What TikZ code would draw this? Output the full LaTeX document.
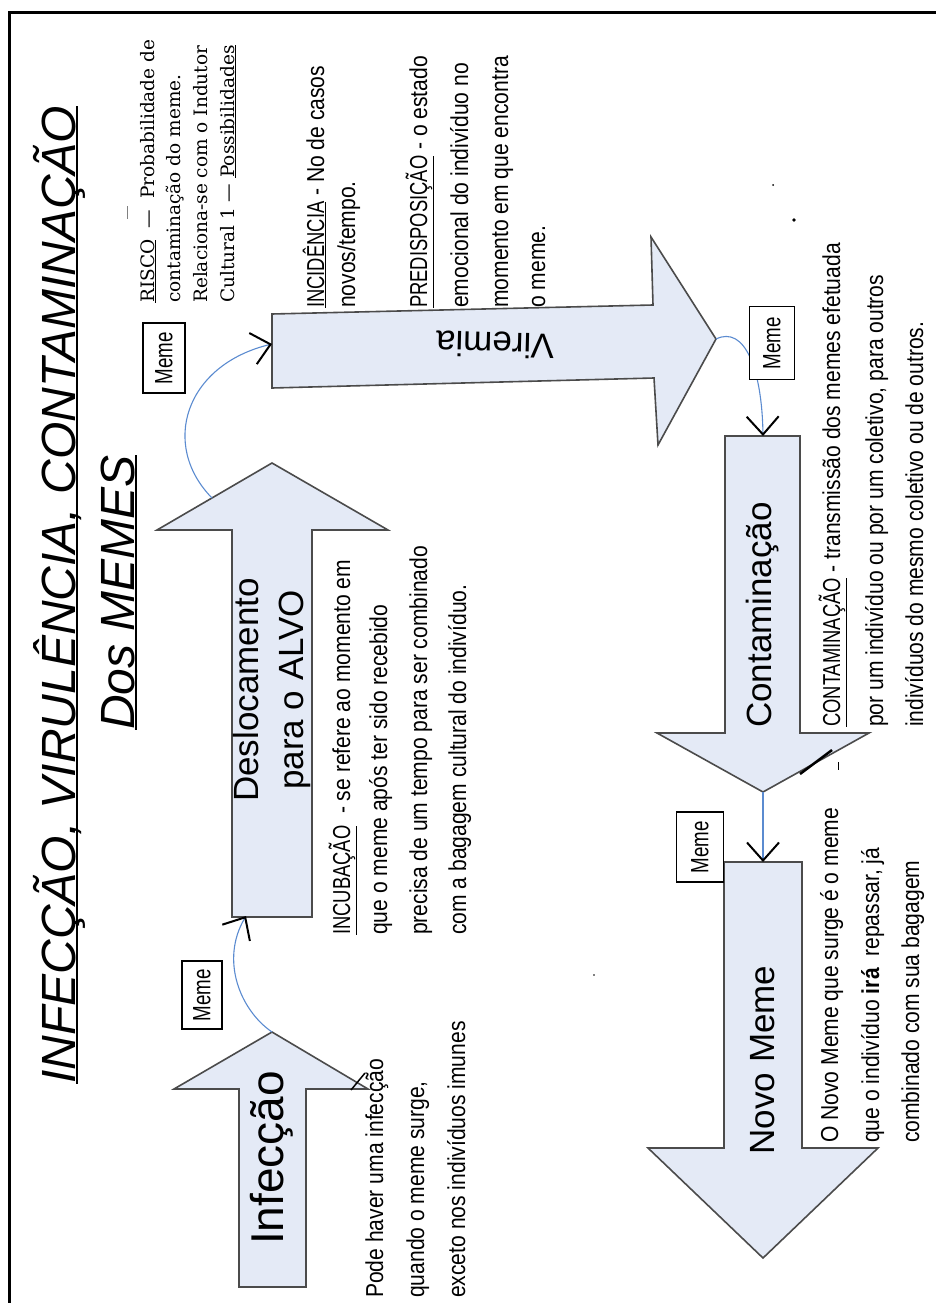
\documentclass[tikz,border=0pt]{standalone}
\usepackage{fontspec}
\setmainfont{Liberation Sans}
\newfontfamily\bodyf[FakeStretch=0.86]{Liberation Sans}
\newfontfamily\capsf[FakeStretch=0.75]{Liberation Sans}
\newfontfamily\serf{DejaVu Serif}
\usetikzlibrary{arrows.meta}
\definecolor{arrfill}{RGB}{228,234,246}
\definecolor{arredge}{RGB}{75,75,75}
\definecolor{connblue}{RGB}{91,139,208}
\newcommand\myul[3]{\setbox0\hbox{#3}\rlap{\rule[-#1]{\wd0}{#2}}\box0\relax}
\newcommand\bul[1]{\setbox0\hbox{#1}\dimen0=\dp0\relax\advance\dimen0 by 1.5pt\relax\rlap{\rule[-\dimen0]{\wd0}{0.8pt}}\box0\relax}
\tikzset{
 arrowshape/.style={fill=arrfill, draw=arredge, line width=1.6pt, line join=miter},
 conn/.style={draw=connblue, line width=1.1pt, -{Straight Barb[color=black, line width=2pt, length=18pt, width=32pt]}},
 memebox/.style={draw=black, fill=white, line width=1.2pt, rotate=90, inner sep=0pt, font=\capsf\fontsize{25}{30}\selectfont},
 bodyline/.style={rotate=90, anchor=base west, inner sep=0pt, font=\bodyf\fontsize{24.5}{39}\selectfont},
 serline/.style={rotate=90, anchor=base west, inner sep=0pt, font=\serf\fontsize{18.5}{26}\selectfont},
 titleline/.style={rotate=90, anchor=base west, inner sep=0pt, font=\itshape\fontsize{48}{56}\selectfont},
 lab/.style={font=\fontsize{35}{45}\selectfont, align=center, inner sep=0pt},
}
\begin{document}
\begin{tikzpicture}[x=1pt,y=-1pt]
\useasboundingbox (0,0) rectangle (936,1303);
% frame
\draw[line width=3pt] (9,1310) -- (9,13) -- (945,13);
% title
\node[titleline] (title) at (75,1084) {\myul{3pt}{2pt}{INFECÇÃO, VIRULÊNCIA, CONTAMINAÇÃO}};
\node[titleline] (subtitle) at (134,730) {\myul{3pt}{2pt}{Dos MEMES}};
% arrows
\path[arrowshape] (239,1287) -- (239,1089) -- (174,1089) -- (272,1032) -- (368,1089) -- (306,1089) -- (306,1287) -- cycle;
\path[arrowshape] (232,917) -- (232,530) -- (157,530) -- (272,463) -- (388,530) -- (312,530) -- (312,917) -- cycle;
\path[arrowshape] (272,314) -- (653,305) -- (651,237) -- (716,339) -- (658,445) -- (654,378) -- (272,388) -- cycle;
\path[arrowshape] (725,436) -- (800,436) -- (800,733) -- (869,733) -- (763,792) -- (657,733) -- (725,733) -- cycle;
\path[arrowshape] (724,862) -- (802,862) -- (802,1148) -- (878,1148) -- (763,1258) -- (648,1148) -- (724,1148) -- cycle;
% named points on arrows
\coordinate (inftip) at (272,1032);
\coordinate (desbot) at (246,916);
\coordinate (desleft) at (212,498);
\coordinate (virleft) at (272,344);
\coordinate (virtip) at (716,339);
\coordinate (contop) at (763,436);
\coordinate (contip) at (763,792);
\coordinate (novtop) at (763,862);
% arrow labels
\node[lab, rotate=90, font=\fontsize{46}{50}\selectfont] (linf) at (272,1158) {Infecção};
\node[lab, rotate=90] (ldes) at (272,690) {Deslocamento\\para o ALVO};
\node[lab, rotate=178.5] (lvir) at (495,345) {Viremia};
\node[lab, rotate=90] (lcon) at (763,615) {Contaminação};
\node[lab, rotate=90] (lnov) at (763,1060) {Novo Meme};
% connectors
\draw[conn] (inftip) .. controls (240,1010) and (220,960) .. (desbot);
\draw[conn] (desleft) .. controls (160,445) and (185,365) .. (virleft);
\draw[conn] (virtip) .. controls (745,325) and (762,370) .. (contop);
\draw[conn] (contip) -- (novtop);
% meme boxes
\node[memebox, minimum width=68pt, minimum height=40pt] (m1) at (202,995) {Meme};
\node[memebox, minimum width=70pt, minimum height=42pt] (m2) at (164,358) {Meme};
\node[memebox, minimum width=73pt, minimum height=45pt] (m3) at (772,343) {Meme};
\node[memebox, minimum width=70pt, minimum height=47pt] (m4) at (700,847) {Meme};
% RISCO block
\node[serline] (r1) at (154,303) {\bul{RISCO}\hspace{0.6em}—\hspace{0.6em}Probabilidade de};
\node[serline] (r2) at (180,303) {contaminação do meme.};
\node[serline] (r3) at (207,303) {Relaciona-se com o Indutor};
\node[serline] (r4) at (234,303) {Cultural 1 — \bul{Possibilidades}};
% INCIDENCIA block
\node[bodyline] (i1) at (324,308) {\bul{\capsf INCIDÊNCIA} - No de casos};
\node[bodyline] (i2) at (355,308) {novos/tempo.};
% PREDISPOSICAO block
\node[bodyline] (p1) at (427,308) {\bul{\capsf PREDISPOSIÇÃO} - o estado};
\node[bodyline] (p2) at (468,308) {emocional do indivíduo no};
\node[bodyline] (p3) at (508,308) {momento em que encontra};
\node[bodyline] (p4) at (545,308) {o meme.};
% INCUBACAO block
\node[bodyline] (u1) at (350,935) {\bul{\capsf INCUBAÇÃO}\ \ - se refere ao momento em};
\node[bodyline] (u2) at (387,935) {que o meme após ter sido recebido};
\node[bodyline] (u3) at (427,935) {precisa de um tempo para ser combinado};
\node[bodyline] (u4) at (466,935) {com a bagagem cultural do indivíduo.};
% Pode haver block
\node[bodyline] (h1) at (383,1298) {Pode haver uma infecção};
\node[bodyline] (h2) at (424,1298) {quando o meme surge,};
\node[bodyline] (h3) at (465,1298) {exceto nos indivíduos imunes};
% CONTAMINACAO block
\node[bodyline] (c1) at (840,727) {\bul{\capsf CONTAMINAÇÃO} - transmissão dos memes efetuada};
\node[bodyline] (c2) at (883,727) {por um indivíduo ou por um coletivo, para outros};
\node[bodyline] (c3) at (923,727) {indivíduos do mesmo coletivo ou de outros.};
% Novo Meme block
\node[bodyline] (n1) at (838,1143) {O Novo Meme que surge é o meme};
\node[bodyline] (n2) at (879,1143) {que o indivíduo \textbf{irá}\ \ repassar, já};
\node[bodyline] (n3) at (919,1143) {combinado com sua bagagem};
% stray marks
\draw[line width=2.5pt] (800,774) -- (832,750);
\draw[line width=1pt] (838,762) -- (838,770);
\draw[line width=1.5pt] (351,1090) -- (365,1073);
\fill (773,185) circle (1pt);
\fill (794,220) circle (1.8pt);
\fill (594,975) circle (0.9pt);
\draw[line width=0.8pt, gray] (127,206) -- (127,219);
\end{tikzpicture}
\end{document}
